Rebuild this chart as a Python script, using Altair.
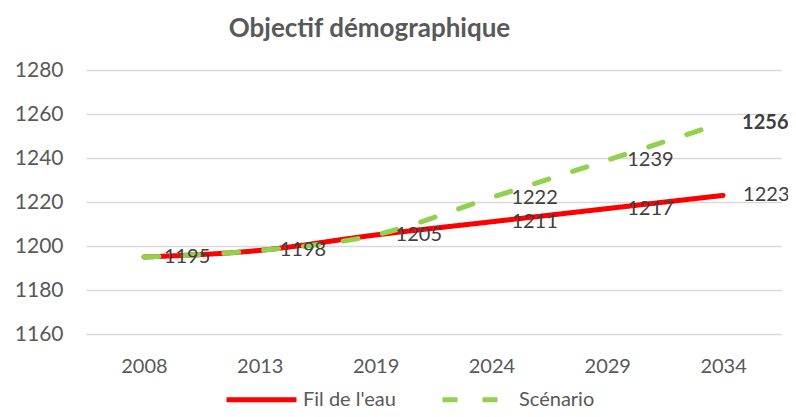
import altair as alt
import pandas as pd

years = ["2008", "2013", "2019", "2024", "2029", "2034"]
fil_de_leau = [1195, 1198, 1205, 1211, 1217, 1223]
scenario = [1195, 1198, 1205, 1222, 1239, 1256]
series_names = ["Fil de l'eau", "Scénario"]
y_ticks = [1160, 1180, 1200, 1220, 1240, 1260, 1280]

# which labels are shown (Excel hides the duplicated scenario labels)
fil_label_shown = [True, True, True, True, True, True]
scen_label_shown = [False, False, False, True, True, True]
scen_label_bold = [False, False, False, False, False, True]

rows = []
for i, y in enumerate(years):
    rows.append({"year": y, "series": series_names[0], "value": fil_de_leau[i],
                 "show": fil_label_shown[i], "bold": False})
for i, y in enumerate(years):
    rows.append({"year": y, "series": series_names[1], "value": scenario[i],
                 "show": scen_label_shown[i], "bold": scen_label_bold[i]})
df = pd.DataFrame(rows)

FONT = "Lato"
GREY = "#595959"

leg = dict(title=None, orient="none", direction="horizontal",
           legendX=138, legendY=292,
           symbolType="stroke", symbolSize=4900, symbolStrokeWidth=5,
           labelFont=FONT, labelFontSize=20, labelColor=GREY,
           labelOffset=4, columnPadding=36, padding=0)

color = alt.Color("series:N", scale=alt.Scale(domain=series_names, range=["#ff0000", "#92d050"]),
                  legend=alt.Legend(**leg))
dash = alt.StrokeDash("series:N", scale=alt.Scale(domain=series_names, range=[[1, 0], [15, 25]]),
                      legend=alt.Legend(**leg))

x = alt.X("year:N", sort=years, scale=alt.Scale(paddingInner=0, paddingOuter=0.0),
          axis=alt.Axis(title=None, labelAngle=0, ticks=False, domain=True, domainColor="#d9d9d9",
                        labelFont=FONT, labelFontSize=20, labelColor=GREY, labelPadding=22))
y = alt.Y("value:Q", scale=alt.Scale(domain=[1160, 1280], nice=False, zero=False),
          axis=alt.Axis(title=None, values=y_ticks, format="d", ticks=False, domain=False,
                        grid=True, gridColor="#d9d9d9", gridWidth=1.3,
                        labelFont=FONT, labelFontSize=21, labelColor=GREY, labelPadding=23))

base = alt.Chart(df).encode(x=x, y=y)

red_line = base.transform_filter(alt.datum.series == series_names[0]).mark_line(
    strokeWidth=5, interpolate="monotone", strokeCap="round").encode(color=color, strokeDash=dash)
green_line = base.transform_filter(alt.datum.series == series_names[1]).mark_line(
    strokeWidth=5, interpolate="monotone", strokeCap="round").encode(color=color, strokeDash=dash)

labels = base.transform_filter("datum.show && !datum.bold").mark_text(
    align="left", baseline="middle", dx=20, font=FONT, fontSize=20, color="#404040"
).encode(text="value:Q")
labels_bold = base.transform_filter("datum.show && datum.bold").mark_text(
    align="left", baseline="middle", dx=19, font=FONT, fontSize=20, fontWeight="bold", color="#404040"
).encode(text="value:Q")

chart = alt.layer(red_line, green_line, labels, labels_bold).properties(
    width=695, height=264,
    autosize=alt.AutoSizeParams(type="none"),
    padding={"left": 78, "top": 62, "right": 7, "bottom": 75},
    title=alt.TitleParams("Objectif démographique", font=FONT, fontSize=26, fontWeight="bold",
                          color=GREY, anchor="middle", frame="group", dx=-64, offset=17),
).configure_view(stroke=None)

chart.save("out.html", embed_options={"renderer": "svg", "actions": False})
